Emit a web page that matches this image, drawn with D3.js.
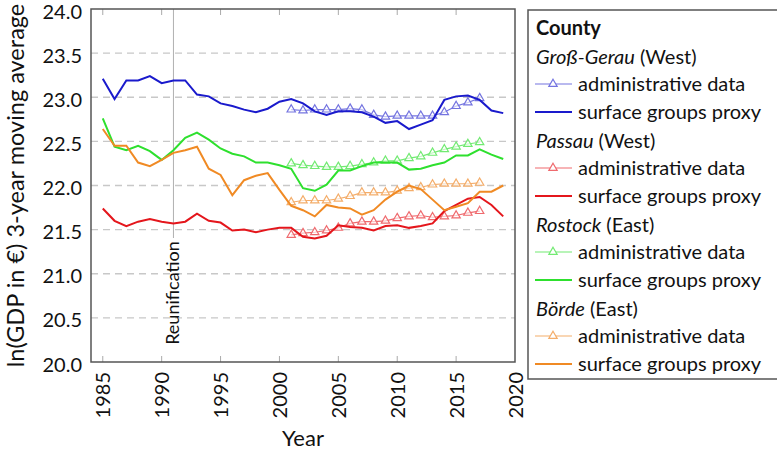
<!DOCTYPE html>
<html><head><meta charset="utf-8">
<script src="https://cdn.jsdelivr.net/npm/d3@7"></script>
<style>
body{margin:0;background:#fff;}
svg{display:block;font-family:Lato,"Open Sans",sans-serif;}
</style></head>
<body><svg id="c" width="777" height="451"></svg>
<script>
const yearsSurface = d3.range(1985, 2020);
const yearsAdmin = d3.range(2001, 2018);
const xTicks = [1985,1990,1995,2000,2005,2010,2015,2020];
const yTicks = [20.0,20.5,21.0,21.5,22.0,22.5,23.0,23.5,24.0];

const grossGerauSurface = [23.21,22.98,23.19,23.19,23.24,23.16,23.19,23.19,23.03,23.01,22.93,22.90,22.86,22.83,22.87,22.95,22.98,22.93,22.84,22.80,22.84,22.84,22.83,22.78,22.71,22.73,22.64,22.69,22.74,22.97,23.01,23.02,22.97,22.85,22.82];
const grossGerauAdmin = [22.86,22.85,22.86,22.86,22.86,22.87,22.86,22.80,22.78,22.79,22.79,22.79,22.79,22.83,22.90,22.94,22.99];
const passauSurface = [21.74,21.60,21.54,21.59,21.62,21.59,21.57,21.59,21.68,21.60,21.58,21.49,21.50,21.47,21.50,21.52,21.52,21.42,21.40,21.43,21.55,21.53,21.52,21.49,21.54,21.55,21.52,21.54,21.57,21.71,21.78,21.85,21.87,21.78,21.65];
const passauAdmin = [21.44,21.46,21.47,21.49,21.52,21.57,21.59,21.59,21.60,21.63,21.65,21.66,21.64,21.65,21.66,21.69,21.71];
const rostockSurface = [22.76,22.44,22.40,22.45,22.39,22.29,22.40,22.54,22.60,22.52,22.42,22.36,22.33,22.26,22.26,22.23,22.19,21.97,21.94,22.01,22.17,22.17,22.22,22.26,22.26,22.26,22.18,22.19,22.23,22.26,22.34,22.34,22.41,22.35,22.30];
const rostockAdmin = [22.25,22.23,22.22,22.21,22.21,22.22,22.24,22.26,22.28,22.28,22.31,22.33,22.37,22.41,22.44,22.47,22.49];
const boerdeSurface = [22.64,22.45,22.45,22.26,22.22,22.29,22.37,22.40,22.44,22.19,22.12,21.89,22.06,22.11,22.14,21.95,21.77,21.72,21.65,21.78,21.75,21.74,21.67,21.72,21.84,21.93,22.00,21.96,21.84,21.72,21.76,21.80,21.93,21.93,22.00];
const boerdeAdmin = [21.81,21.83,21.83,21.83,21.85,21.88,21.92,21.92,21.92,21.94,21.97,21.98,22.01,22.02,22.02,22.02,22.03];

const counties = [
  {name:"Groß-Gerau", region:"West", surface:grossGerauSurface, admin:grossGerauAdmin, c:"#1a1acc", ca:"#7474e0"},
  {name:"Passau", region:"West", surface:passauSurface, admin:passauAdmin, c:"#e4161c", ca:"#ef6a6e"},
  {name:"Rostock", region:"East", surface:rostockSurface, admin:rostockAdmin, c:"#2ee02e", ca:"#72ea72"},
  {name:"Börde", region:"East", surface:boerdeSurface, admin:boerdeAdmin, c:"#f08a24", ca:"#f4ad6a"}
];

const svg = d3.select("#c");
const L=91, R=515, T=9, B=362;
const x = d3.scaleLinear().domain([1984,2020]).range([L,R]);
const y = d3.scaleLinear().domain([20,24]).range([B,T]);

// grid
svg.append("g").selectAll("line").data(yTicks.filter(v=>v>20&&v<24)).join("line")
  .attr("x1",L).attr("x2",R).attr("y1",d=>y(d)).attr("y2",d=>y(d))
  .attr("stroke","#c8c8c8").attr("stroke-width",1.4).attr("stroke-dasharray","7,5");

// x ticks top & bottom (inside)
const tk = svg.append("g");
xTicks.filter(v=>v<2020).forEach(v=>{
  tk.append("line").attr("x1",x(v)).attr("x2",x(v)).attr("y1",B).attr("y2",B-6).attr("stroke","#aaa").attr("stroke-width",1);
  tk.append("line").attr("x1",x(v)).attr("x2",x(v)).attr("y1",T).attr("y2",T+6).attr("stroke","#aaa").attr("stroke-width",1);
});

// reunification line & label
const xr = x(1991);
svg.append("line").attr("x1",xr).attr("x2",xr).attr("y1",T).attr("y2",238).attr("stroke","#b0b0b0").attr("stroke-width",1);
svg.append("text").attr("transform",`translate(${xr+6},${293}) rotate(-90)`)
  .attr("text-anchor","middle").attr("font-size",18).attr("fill","#111").text("Reunification");

// lines
const line = (yrs)=>d3.line().x((d,i)=>x(yrs[i])).y(d=>y(d));
counties.forEach(c=>{
  svg.append("path").attr("d",line(yearsAdmin)(c.admin)).attr("fill","none").attr("stroke",c.ca).attr("stroke-width",1.2);
  svg.append("g").selectAll("path").data(c.admin).join("path")
    .attr("d",d3.symbol(d3.symbolTriangle,30)())
    .attr("transform",(d,i)=>`translate(${x(yearsAdmin[i])},${y(d)})`)
    .attr("fill","white").attr("fill-opacity",0.6).attr("stroke",c.ca).attr("stroke-width",1.2);
  svg.append("path").attr("d",line(yearsSurface)(c.surface)).attr("fill","none").attr("stroke",c.c).attr("stroke-width",2);
});

// frame
svg.append("rect").attr("x",L).attr("y",T).attr("width",R-L).attr("height",B-T).attr("fill","none").attr("stroke","#555").attr("stroke-width",1.5);

// axes labels
const yAxis = d3.axisLeft(y).tickValues(yTicks).tickFormat(d3.format(".1f")).tickSize(0).tickPadding(9);
const ya = svg.append("g").attr("transform",`translate(${L},0)`).call(yAxis);
ya.select(".domain").remove();
ya.selectAll("text").attr("font-size",20).attr("fill","#111").attr("font-family","Lato,'Open Sans',sans-serif").attr("dy","0.45em");

const xAxis = d3.axisBottom(x).tickValues(xTicks).tickFormat(d3.format("d")).tickSize(0).tickPadding(0);
const xa = svg.append("g").attr("transform",`translate(0,${B})`).call(xAxis);
xa.select(".domain").remove();
xa.selectAll("text").attr("font-size",20).attr("fill","#111").attr("font-family","Lato,'Open Sans',sans-serif")
  .attr("transform","rotate(-90)").attr("text-anchor","end").attr("x",-10).attr("y",0).attr("dy","0.35em");

svg.append("text").attr("x",(L+R)/2).attr("y",446).attr("text-anchor","middle").attr("font-size",22).attr("fill","#111").text("Year");
svg.append("text").attr("transform",`translate(24,${(T+B)/2}) rotate(-90)`).attr("text-anchor","middle")
  .attr("font-size",23.5).attr("fill","#111").text("ln(GDP in €) 3-year moving average");

// legend
const lg = svg.append("g");
lg.append("rect").attr("x",528).attr("y",10).attr("width",260).attr("height",369).attr("fill","white").attr("stroke","#555").attr("stroke-width",1.5);
lg.append("text").attr("x",536).attr("y",35).attr("font-size",20).attr("font-weight","bold").attr("fill","#111").text("County");
counties.forEach((c,i)=>{
  const y0 = 64 + i*84;
  const t = lg.append("text").attr("x",536).attr("y",y0).attr("font-size",20).attr("fill","#111");
  t.append("tspan").attr("font-style","italic").text(c.name);
  t.append("tspan").text(` (${c.region})`);
  const ya1 = y0+20, ya2 = y0+48;
  lg.append("line").attr("x1",535).attr("x2",572).attr("y1",ya1).attr("y2",ya1).attr("stroke",c.ca).attr("stroke-width",1.2);
  lg.append("path").attr("d",d3.symbol(d3.symbolTriangle,30)()).attr("transform",`translate(553,${ya1})`).attr("fill","white").attr("stroke",c.ca).attr("stroke-width",1.2);
  lg.append("text").attr("x",578).attr("y",ya1+7).attr("font-size",20).attr("fill","#111").text("administrative data");
  lg.append("line").attr("x1",535).attr("x2",572).attr("y1",ya2).attr("y2",ya2).attr("stroke",c.c).attr("stroke-width",2);
  lg.append("text").attr("x",578).attr("y",ya2+7).attr("font-size",20).attr("fill","#111").text("surface groups proxy");
});
</script></body></html>
